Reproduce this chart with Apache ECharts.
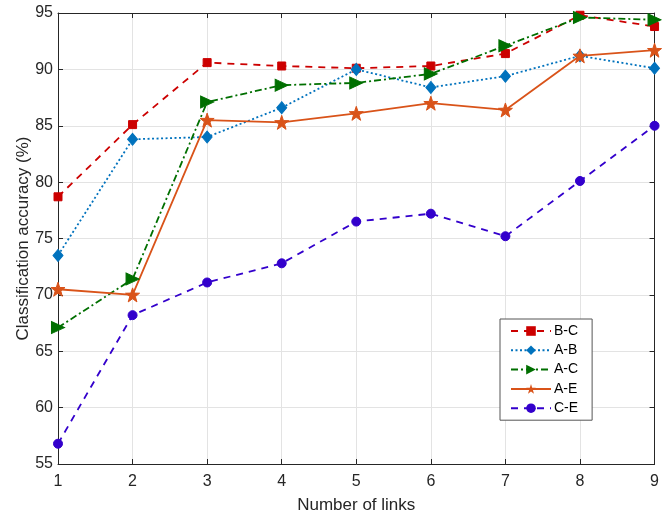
<!DOCTYPE html>
<html>
<head>
<meta charset="utf-8">
<script src="https://cdn.jsdelivr.net/npm/echarts@6/dist/echarts.min.js"></script>
<style>
  html, body { margin: 0; padding: 0; background: #fff; }
  #chart { width: 662px; height: 519px; }
</style>
</head>
<body>
<div id="chart"></div>
<script>
// Number of links on the x axis
const links = [1, 2, 3, 4, 5, 6, 7, 8, 9];

// Classification accuracy (%) per pair
const accBC = [78.7, 85.1, 90.6, 90.3, 90.1, 90.3, 91.4, 94.8, 93.8];
const accAB = [73.5, 83.8, 84.0, 86.6, 90.0, 88.4, 89.4, 91.2, 90.1];
const accAC = [67.1, 71.4, 87.1, 88.6, 88.8, 89.6, 92.1, 94.6, 94.4];
const accAE = [70.5, 70.0, 85.5, 85.3, 86.1, 87.0, 86.4, 91.2, 91.7];
const accCE = [56.8, 68.2, 71.1, 72.8, 76.5, 77.2, 75.2, 80.1, 85.0];

const font = '"Liberation Sans", Arial, Helvetica, sans-serif';
const axisColor = '#262626';
const starPath = 'path://M0,-10 L2.35,-3.24 L9.51,-3.09 L3.8,1.24 L5.88,8.09 L0,4 L-5.88,8.09 L-3.8,1.24 L-9.51,-3.09 L-2.35,-3.24 Z';

function pairs(ys) { return links.map((x, i) => [x, ys[i]]); }

function makeSeries(name, ys, color, dash, symbol, size, rotate) {
  return {
    name: name,
    type: 'line',
    data: pairs(ys),
    xAxisIndex: 0,
    yAxisIndex: 0,
    symbol: symbol,
    symbolSize: size,
    symbolRotate: rotate || 0,
    showAllSymbol: true,
    lineStyle: { color: color, width: 1.8, type: dash },
    itemStyle: { color: color, borderColor: color },
    emphasis: { disabled: true },
    animation: false
  };
}

const chart = echarts.init(document.getElementById('chart'), null, { renderer: 'canvas' });

const baseX = {
  type: 'value', min: 1, max: 9, interval: 1,
  axisLine: { show: true, lineStyle: { color: axisColor, width: 1 } },
  axisTick: { show: true, inside: true, length: 5, lineStyle: { color: axisColor } }
};
const baseY = {
  type: 'value', min: 55, max: 95, interval: 5,
  axisLine: { show: true, lineStyle: { color: axisColor, width: 1 } },
  axisTick: { show: true, inside: true, length: 5, lineStyle: { color: axisColor } }
};

chart.setOption({
  backgroundColor: '#ffffff',
  animation: false,
  grid: { left: 58, right: 5, top: 13, bottom: 55, containLabel: false },
  xAxis: [
    Object.assign({}, baseX, {
      position: 'bottom',
      name: 'Number of links',
      nameLocation: 'middle',
      nameGap: 33,
      nameTextStyle: { fontFamily: font, fontSize: 17, color: axisColor },
      axisLabel: { fontFamily: font, fontSize: 16, color: axisColor, margin: 10 },
      splitLine: { show: true, lineStyle: { color: '#e3e3e3', width: 1 } }
    }),
    Object.assign({}, baseX, {
      position: 'top',
      axisLabel: { show: false },
      splitLine: { show: false }
    })
  ],
  yAxis: [
    Object.assign({}, baseY, {
      position: 'left',
      name: 'Classification accuracy (%)',
      nameLocation: 'middle',
      nameMoveOverlap: false,
      nameGap: 26,
      nameTextStyle: { fontFamily: font, fontSize: 17, color: axisColor },
      axisLabel: { fontFamily: font, fontSize: 16, color: axisColor, margin: 5 },
      splitLine: { show: true, lineStyle: { color: '#e3e3e3', width: 1 } }
    }),
    Object.assign({}, baseY, {
      position: 'right',
      axisLabel: { show: false },
      splitLine: { show: false }
    })
  ],
  legend: {
    orient: 'vertical',
    left: 500,
    top: 319,
    width: 92,
    backgroundColor: '#ffffff',
    borderColor: '#555555',
    borderWidth: 1,
    padding: [5, 14, 5, 10],
    itemWidth: 40,
    itemHeight: 12,
    itemGap: 5.3,
    textStyle: { fontFamily: font, fontSize: 14, color: '#000000', padding: [0, 0, 0, -2] },
    data: ['B-C', 'A-B', 'A-C', 'A-E', 'C-E']
  },
  series: [
    makeSeries('B-C', accBC, '#cc0000', [7, 6], 'rect', 8),
    makeSeries('A-B', accAB, '#0072bd', [2, 2.5], 'diamond', [10, 12]),
    makeSeries('A-C', accAC, '#006f00', [7, 3, 2, 3], 'triangle', [12, 13], -90),
    makeSeries('A-E', accAE, '#d95319', 'solid', starPath, 14),
    makeSeries('C-E', accCE, '#3300cc', [7, 6], 'circle', 9)
  ]
});
</script>
</body>
</html>
